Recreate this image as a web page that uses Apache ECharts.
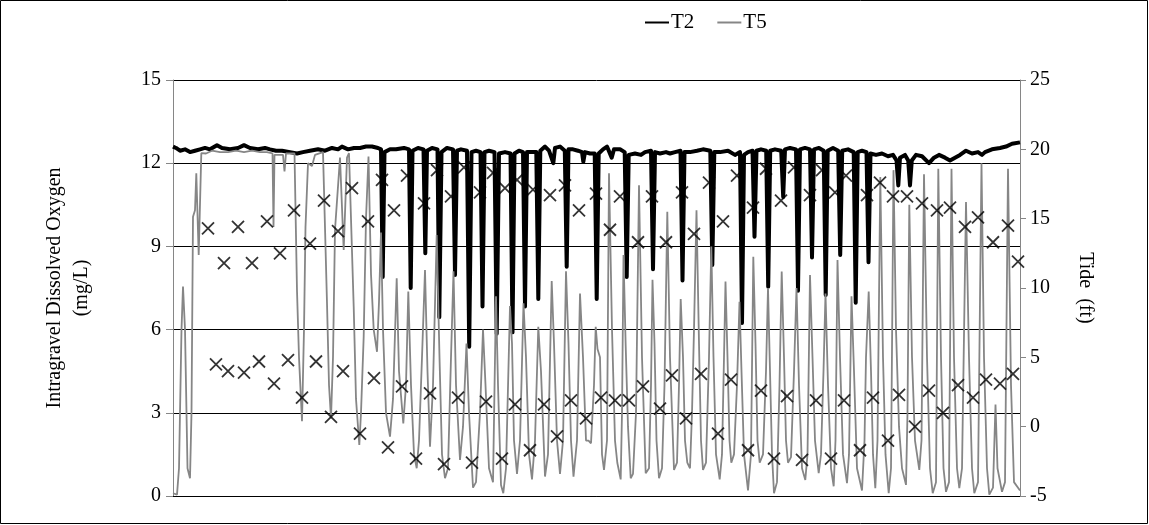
<!DOCTYPE html>
<html><head><meta charset="utf-8">
<script src="https://cdn.jsdelivr.net/npm/echarts@6/dist/echarts.min.js"></script>
<style>html,body{margin:0;padding:0;background:#fff}#c{width:1149px;height:525px}</style>
</head><body><div id="c"></div>
<script>
// time axis: logger time steps from start (~51 min per step); no labels shown on the x axis
const doTicks = [0, 3, 6, 9, 12, 15];
const tideTicks = [-5, 0, 5, 10, 15, 20, 25];
const timeMax = 847;

// T2 dissolved oxygen (mg/L)
const t2Time = [0,3,7,12,17,22,27,32,37,44,49,57,65,71,77,85,92,97,103,109,117,124,130,137,145,152,159,165,169,175,181,187,193,199,205,208,209.7,211.5,217,223,231,236,237.7,239.5,245,250.5,252.3,254,259,264.5,266.3,268.5,274,280,282,284,288,294,296.2,298.5,303,307.5,309.5,311.5,316,321.5,323.7,326,332,337.5,339.5,341.5,346,350,352,354,358,363.3,365.3,367.3,372,376,378,380.3,382,387,391.8,393.7,395.5,400,405,409,410.3,412,417,421.7,423.7,425.7,430,434,438.7,441,447,451.7,453.7,455.7,462,468,472,478,480,482,487,493,497,502,507.5,509.5,511.5,517,524,530,537.3,539.3,541.3,547,555,562,567,569,571,575,579.5,581.5,583.5,588,593.2,595.2,597.2,602,608.2,610.2,612,617,623,625,627,632,637,639,641,646,650.7,652.7,654.7,660,665.2,667.2,669.2,675,680.7,682.7,684.7,689,693.5,695.5,697.5,703,709,715,720,723.5,725.3,727,732,735.2,737,738.8,743,749,756,761,766,772,777,782,787,793,799,805,809,812,819,827,833,839,847];
const t2DO = [12.6,12.55,12.45,12.5,12.4,12.45,12.5,12.55,12.5,12.65,12.55,12.5,12.55,12.65,12.55,12.5,12.55,12.5,12.45,12.45,12.4,12.35,12.4,12.45,12.5,12.45,12.55,12.5,12.6,12.5,12.55,12.55,12.6,12.6,12.55,12.5,7.9,12.4,12.5,12.5,12.55,12.5,7.5,12.45,12.55,12.5,8.75,12.45,12.55,12.5,6.45,12.4,12.55,12.5,7.97,12.45,12.5,12.45,5.38,12.4,12.45,12.4,6.83,12.4,12.45,12.4,5.85,12.35,12.4,12.35,5.9,12.35,12.45,12.4,6.83,12.4,12.4,12.4,7.1,12.45,12.6,12.45,12.5,12.0,12.55,12.6,12.45,8.27,12.5,12.5,12.45,12.4,12.05,12.4,12.35,12.35,7.1,12.35,12.5,12.6,12.2,12.5,12.5,12.4,7.9,12.3,12.35,12.3,12.4,12.45,8.18,12.4,12.35,12.4,12.35,12.4,12.45,7.77,12.4,12.4,12.45,12.5,12.45,8.33,12.4,12.4,12.45,12.3,12.4,6.24,12.3,12.4,12.45,9.35,12.45,12.5,12.45,7.55,12.45,12.5,12.45,10.78,12.5,12.55,12.5,7.4,12.5,12.55,12.5,8.6,12.5,12.55,12.45,7.25,12.45,12.55,12.45,8.69,12.45,12.5,12.4,6.97,12.4,12.45,12.4,8.43,12.35,12.3,12.35,12.25,12.3,12.1,11.2,12.2,12.3,12.1,11.2,12.1,12.3,12.25,12.0,12.2,12.3,12.2,12.1,12.2,12.3,12.45,12.35,12.4,12.3,12.4,12.5,12.55,12.6,12.7,12.75];

// T5 dissolved oxygen (mg/L)
const t5Time = [0,4,6,8.5,10,12,14.5,17,18.5,20,22,23.3,25.7,28.3,33,39,47,55,63,71,79,87,94,99.5,100.5,101.5,110,111.5,113,121.5,124,126,129,131,132.5,135,139,142,150,152.5,154,156,158,160,162,167,170.7,174,176,178,180.7,183,186.3,188,190.7,193,195.5,198,200.7,204,206,208,210,213,217,220,223.7,226,230.3,233,235.3,238,241,243.7,246,249,252,254.5,257,260,263.7,266.5,269,272,275,278,280.5,283,287,290,293.5,296,300,303,307,310,312.5,316,320,323,325,328,330.3,333,337,339,341,344,347,350.5,353,356,359,362,365.3,368,372,375,378.7,381,384,387,390,393,395.5,398,400.5,404,407,410,413,415.5,418,421,422.7,424.5,427,429,431,434,436,439,442,444.3,447.7,449,450.5,452.7,455,457.7,460,463,466,469,472.7,476,478,479.5,481.5,483.5,486,489,491.5,494.3,497,501,504,506,507.7,510,512,514.3,517,519,521,523.5,526,528,530,533,536,538.3,540.5,543,546.7,549,551,552.5,554.5,556.5,558.3,561,564,566.5,568.5,571,575,578,580.3,582.5,584.5,586.7,590,593,595,597,599,601,604,606.5,608.7,611,613,615,618,621,623.5,626,629,632.3,634.5,637,639.5,642,645.7,648,650.5,652.5,655,658,660.7,662.5,664.5,667,670,674,676,678.5,681,684,689,691.5,693,695.7,698,700,702.3,704.5,707.3,710,712.5,715.7,718,720.5,723,726,729,733,734.5,736.3,739,742,746.3,748.5,751,754,757,759.7,763,765.3,768,770.5,773,776,778.5,781,784,786.3,789,793,796,799,801.3,805,808.5,811,814,816.3,820,822.5,824.5,829,832,835,838,841,847];
const t5DO = [0.1,0.05,1.0,6.0,7.55,6.0,1.0,0.64,3.0,10.07,10.3,11.64,8.69,12.36,12.35,12.45,12.4,12.4,12.45,12.4,12.45,12.4,12.4,12.35,9.7,12.3,12.3,11.7,12.35,12.35,7.4,5.0,2.7,6.0,9.7,12.0,11.9,12.3,12.4,9.0,6.95,4.0,2.8,5.0,9.6,12.2,8.87,12.2,12.36,10.0,6.83,3.5,1.84,3.0,5.75,10.0,12.24,8.0,6.0,5.2,7.0,9.5,6.0,3.0,2.14,3.5,7.85,4.5,2.62,4.0,7.37,4.0,1.5,1.0,2.0,5.0,8.15,4.5,1.78,4.0,9.41,5.0,1.5,0.64,1.0,5.0,8.1,4.0,1.3,2.5,5.5,3.0,0.3,0.5,3.0,6.0,4.0,1.0,0.5,7.2,4.0,0.4,0.1,1.0,6.85,5.5,2.0,0.8,2.0,6.95,5.0,1.5,0.6,2.0,6.1,4.5,0.7,1.5,7.75,5.5,2.0,0.8,2.0,8.1,5.5,2.0,0.7,2.0,7.3,5.0,2.0,2.0,1.9,4.0,6.1,5.3,5.0,1.5,0.94,2.0,11.64,6.0,2.0,1.2,0.6,3.0,8.69,5.4,2.5,0.64,0.8,3.0,11.2,5.0,0.82,1.0,4.0,7.8,5.5,2.0,0.64,1.0,4.0,10.25,5.0,0.94,1.2,4.0,7.1,5.0,2.0,1.2,1.0,3.0,6.0,10.3,5.5,2.0,0.94,1.2,5.0,9.0,5.0,1.5,0.6,1.5,5.0,7.73,5.0,2.0,1.2,1.5,4.0,7.0,4.5,1.5,0.2,1.5,8.63,5.5,2.0,1.2,1.5,4.5,7.5,4.5,1.5,0.1,0.5,4.0,8.09,5.0,2.0,1.2,1.4,4.5,7.5,4.0,1.0,0.58,1.5,7.97,5.0,2.0,0.82,1.5,4.5,7.3,4.0,1.0,0.35,2.0,8.51,5.0,1.5,0.46,1.5,7.2,4.5,1.0,0.2,2.0,5.0,7.37,4.5,1.5,0.28,2.0,11.5,5.0,1.5,0.1,1.0,11.75,6.0,2.5,1.0,0.4,3.0,10.5,5.0,2.0,0.94,2.0,11.6,5.0,1.0,0.1,0.5,11.8,5.0,1.0,0.15,0.5,11.8,5.0,1.0,0.28,1.0,10.6,5.0,1.0,0.1,0.5,12.0,5.0,1.0,0.05,0.3,3.3,1.0,0.15,0.5,11.8,4.0,0.5,0.2];

// Tide (ft), high and low water
const tideTime = [35,43,51,55,65,71,79,86,94,101,107,115,121,129,137,143,151,158,165,170,179,187,195,201,209,215,221,229,234,243,251,257,264,271,278,285,291,299,307,313,320,329,332,342,344,357,360,371,377,384,392,398,406,413,423,428,437,442,447,456,465,470,479,487,493,499,509,513,521,528,536,545,550,558,564,575,580,588,593,601,608,614,621,629,637,643,649,658,662,671,673,687,694,700,707,715,720,726,734,742,749,756,764,770,777,785,792,800,805,813,820,827,835,840,845];
const tideFt = [14.3,4.5,11.8,4.0,14.4,3.9,11.8,4.7,14.8,3.1,12.5,4.8,15.6,2.1,13.2,4.7,16.3,0.7,14.1,4.0,17.2,-0.5,14.8,3.5,17.8,-1.5,15.6,2.9,18.1,-2.3,16.1,2.4,18.5,-2.7,16.6,2.1,18.7,-2.6,16.9,1.8,18.3,-2.3,17.2,1.6,17.8,-1.7,17.1,1.6,16.7,-0.7,17.4,1.9,15.6,0.6,16.8,2.1,14.2,1.9,16.6,1.9,13.3,2.9,16.6,1.3,13.3,3.7,16.9,0.6,13.9,3.8,17.6,-0.5,14.8,3.4,18.1,-1.7,15.8,2.6,18.6,-2.3,16.3,2.2,18.7,-2.4,16.7,1.9,18.5,-2.3,16.9,1.9,18.1,-1.7,16.7,2.1,17.6,-1.0,16.6,2.3,16.6,0.0,16.1,2.6,15.6,1.0,15.8,3.0,14.4,2.1,15.1,3.4,13.3,3.1,14.5,3.8,11.9];

const FONT = '"Liberation Serif","Times New Roman",serif';
const zip = (a, b) => a.map((v, i) => [v, b[i]]);
const chart = echarts.init(document.getElementById('c'), null, {renderer: 'canvas'});
const labelStyle = {fontFamily: FONT, fontSize: 20, color: '#000'};
chart.setOption({
  animation: false,
  backgroundColor: '#fff',
  grid: {left: 173, right: 129, top: 80, bottom: 29},
  legend: {
    data: ['T2', 'T5'], left: 639, top: 7, itemWidth: 24, itemHeight: 14, itemGap: 22,
    itemStyle: {opacity: 0},
    textStyle: {fontFamily: FONT, fontSize: 21, color: '#000', padding: [0, 0, 0, -3]}
  },
  xAxis: {
    type: 'value', min: 0, max: timeMax,
    axisLine: {show: true, lineStyle: {color: '#000', width: 1}},
    axisTick: {show: false}, axisLabel: {show: false}, splitLine: {show: false}
  },
  yAxis: [{
    type: 'value', min: doTicks[0], max: doTicks[doTicks.length - 1], interval: doTicks[1] - doTicks[0],
    axisLine: {show: true, lineStyle: {color: '#868686'}},
    axisTick: {show: true, length: 7, lineStyle: {color: '#868686'}},
    axisLabel: Object.assign({margin: 12}, labelStyle),
    splitLine: {show: true, lineStyle: {color: '#000', width: 1}}
  }, {
    type: 'value', position: 'right', min: tideTicks[0], max: tideTicks[tideTicks.length - 1], interval: tideTicks[1] - tideTicks[0],
    axisLine: {show: true, lineStyle: {color: '#868686'}},
    axisTick: {show: true, length: 6, lineStyle: {color: '#868686'}},
    axisLabel: Object.assign({margin: 10}, labelStyle),
    splitLine: {show: false}
  }],
  series: [{
    name: 'T2', type: 'line', yAxisIndex: 0, data: zip(t2Time, t2DO),
    symbol: 'none', lineStyle: {color: '#000', width: 4, join: 'round'}, itemStyle: {color: '#000'}, z: 2
  }, {
    name: 'T5', type: 'line', yAxisIndex: 0, data: zip(t5Time, t5DO),
    symbol: 'none', lineStyle: {color: '#868686', width: 1.8}, itemStyle: {color: '#868686'}, z: 3
  }, {
    name: 'Tide', type: 'scatter', yAxisIndex: 1, data: zip(tideTime, tideFt),
    symbol: 'path://M0,0L10,10M10,0L0,10', symbolSize: 12,
    itemStyle: {color: 'none', borderColor: '#000', borderWidth: 1.8}, z: 4
  }],
  graphic: [{
    type: 'rect', shape: {x: 0.5, y: 0.5, width: 1147, height: 523}, style: {fill: 'none', stroke: '#000', lineWidth: 1}, silent: true
  }, {
    type: 'text', x: 68, y: 288, rotation: Math.PI / 2,
    style: {text: 'Intragravel Dissolved Oxygen\n(mg/L)', font: '20px ' + FONT, fill: '#000', align: 'center', verticalAlign: 'middle', lineHeight: 27}
  }, {
    type: 'text', x: 1085, y: 288, rotation: -Math.PI / 2,
    style: {text: 'Tide  (ft)', font: '20px ' + FONT, fill: '#000', align: 'center', verticalAlign: 'middle'}
  }]
});
</script></body></html>
